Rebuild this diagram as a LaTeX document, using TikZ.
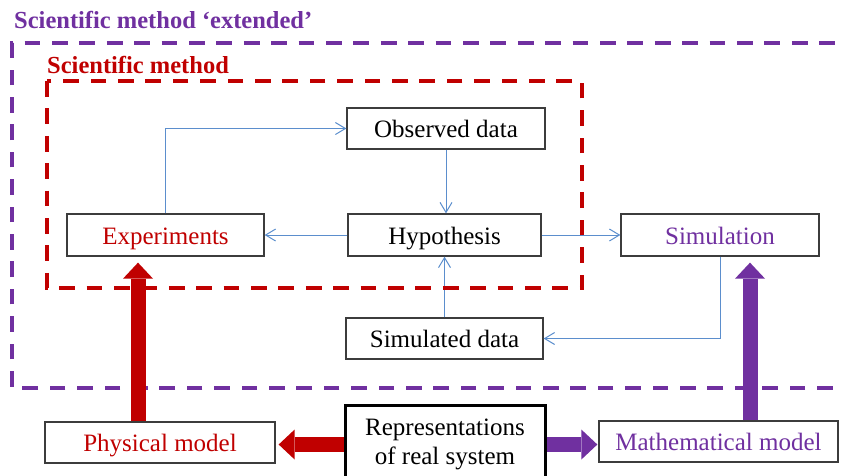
\documentclass[tikz,border=0pt]{standalone}
\usepackage{fontspec}
\setmainfont{Liberation Serif}
\usetikzlibrary{arrows.meta}
\definecolor{cpurple}{RGB}{112,48,160}
\definecolor{cred}{RGB}{192,0,0}
\definecolor{cblue}{RGB}{91,142,205}
\definecolor{cgrey}{RGB}{60,60,60}
\tikzset{
  boxbase/.style={draw=cgrey, line width=1.3pt, inner sep=0pt, fill=white,
    font=\fontsize{25}{29.5}\selectfont},
  box/.style={boxbase, minimum height=41pt, text height=18pt, text depth=0pt},
  bluearrow/.style={draw=cblue, line width=1pt, -{Straight Barb[length=10pt,width=12pt]}},
  bigred/.style={draw=cred, line width=15pt, -{Triangle[length=16pt,width=30pt,line width=0pt]}},
  bigpurple/.style={draw=cpurple, line width=15pt, -{Triangle[length=16pt,width=30pt,line width=0pt]}},
  frame/.style={line width=3.6pt, dash pattern=on 15.7pt off 11.7pt},
  titletext/.style={anchor=base west, inner sep=0pt, font=\fontsize{24.5}{29}\selectfont\bfseries}
}
\begin{document}
\begin{tikzpicture}[x=1pt, y=-1pt]
\useasboundingbox (0,0) rectangle (842,475);
\fill[white] (0,0) rectangle (842,475);

% titles
\node[titletext, text=cpurple] (t1) at (14,28) {Scientific method ‘extended’};
\node[titletext, text=cred] (t2) at (47,73) {Scientific method};

% boxes
\node[box, minimum width=198pt] (obs) at (446,128.5) {Observed data};
\node[box, minimum width=193pt, minimum height=42pt] (hyp) at (444.5,235) {Hypothesis};
\node[box, minimum width=197pt, minimum height=42pt, text=cred] (exp) at (165.5,235) {Experiments};
\node[box, minimum width=198pt, minimum height=42pt, text=cpurple] (sim) at (720,235) {Simulation};
\node[box, minimum width=197pt] (simd) at (444.5,338.5) {Simulated data};
\node[box, minimum width=230pt, text=cred] (phys) at (160,442.5) {Physical model};
\node[box, minimum width=239pt, text=cpurple] (math) at (718.5,441.5) {Mathematical model};
\node[boxbase, draw=black, line width=3pt, minimum width=200pt, minimum height=78pt, align=center] (rep) at (445,444.5) {Representations\\of real system};

% blue connectors
\draw[bluearrow] (exp.north) |- (obs.west);
\draw[bluearrow] (obs.south) -- (obs.south |- hyp.north);
\draw[bluearrow] (hyp.west) -- (exp.east);
\draw[bluearrow] (hyp.east) -- (sim.west);
\draw[bluearrow] (simd.north) -- (simd.north |- hyp.south);
\draw[bluearrow] (sim.south) |- (simd.east);

% dashed frames
\draw[frame, draw=cpurple] (860,388) -- (12,388) -- (12,43) -- (860,43);
\draw[frame, draw=cred] (47,81) rectangle (582,288);

% thick arrows
\draw[bigred] ([xshift=-22pt]phys.north) -- ([xshift=-27.5pt,yshift=-6pt]exp.south);
\draw[bigpurple] ([xshift=31.5pt]math.north) -- ([xshift=30pt,yshift=-6pt]sim.south);
\draw[bigred] (rep.west) -- ([xshift=3pt]rep.west -| phys.east);
\draw[bigpurple] (rep.east) -- ([xshift=-1pt]rep.east -| math.west);
\end{tikzpicture}
\end{document}
